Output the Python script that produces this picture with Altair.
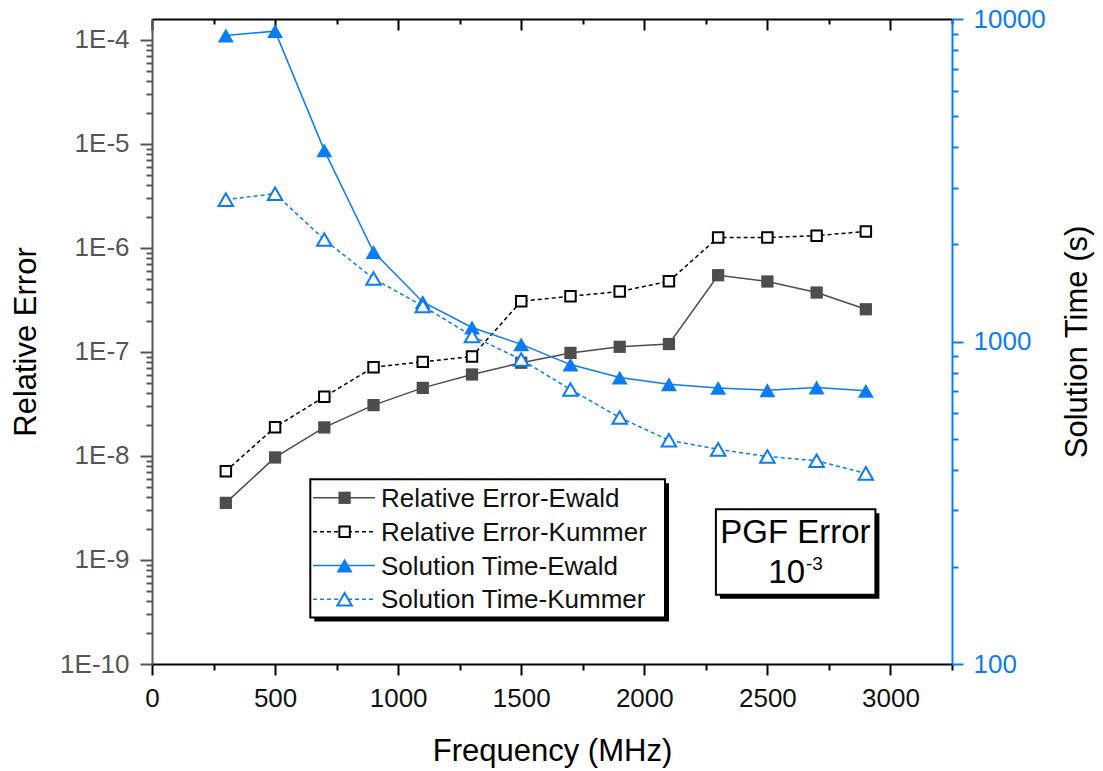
import altair as alt
import pandas as pd

# ---------------- data ----------------
freq = [300, 500, 700, 900, 1100, 1300, 1500, 1700, 1900, 2100, 2300, 2500, 2700, 2900]
re_ewald = [3.54e-9, 9.67e-9, 1.88e-8, 3.08e-8, 4.51e-8, 6.07e-8, 7.87e-8,
            9.78e-8, 1.12e-7, 1.19e-7, 5.46e-7, 4.75e-7, 3.72e-7, 2.57e-7]
re_kummer = [7.14e-9, 1.89e-8, 3.70e-8, 7.13e-8, 8.02e-8, 9.03e-8, 3.07e-7,
             3.43e-7, 3.80e-7, 4.78e-7, 1.26e-6, 1.26e-6, 1.31e-6, 1.44e-6]
st_ewald = [8890, 9170, 3914, 1895, 1326, 1105, 980, 848, 773, 737, 718, 706, 720, 703]
st_kummer = [2754, 2873, 2070, 1567, 1289, 1040, 879, 710, 581, 494, 463, 440, 427, 390]

legend_labels = ["Relative Error-Ewald", "Relative Error-Kummer",
                 "Solution Time-Ewald", "Solution Time-Kummer"]
note_title = "PGF Error"
note_base = "10"
note_exp = "-3"

x_major = [0, 500, 1000, 1500, 2000, 2500, 3000]
x_minor = [250, 750, 1250, 1750, 2250, 2750, 3250]
left_major = [1e-10, 1e-9, 1e-8, 1e-7, 1e-6, 1e-5, 1e-4]
left_minor = [float(f"{m}e{e}") for e in range(-10, -4) for m in range(2, 10)]
right_major = [100, 1000, 10000]
right_minor = [m * 100 for m in range(2, 10)] + [m * 1000 for m in range(2, 10)]

# ---------------- style ----------------
FONT = "Liberation Sans"
BLUE = "#0B7CF2"
GRAY = "#4D4D4D"
AXGRAY = "#555555"
W, H = 800, 645

XS = alt.Scale(domain=[0, 3250], nice=False, zero=False)
YL = alt.Scale(type="log", domain=[1e-10, 10 ** -3.8], nice=False)
YR = alt.Scale(type="log", domain=[100, 10000], nice=False)


def minor_axis(orient, values, color, size, offset=0):
    kw = dict(orient=orient, values=values, labels=False, domain=False,
              tickSize=size, tickWidth=2, tickColor=color, grid=False, title=None)
    if offset:
        kw["offset"] = offset
    return alt.Axis(**kw)


x_bottom = alt.Axis(
    orient="bottom", values=x_major, format="d",
    tickSize=11, tickWidth=2, tickColor="black", domainColor="black", domainWidth=2,
    labelFont=FONT, labelFontSize=26, labelColor="#111111", labelPadding=10,
    labelOverlap=False, labelFlush=False, grid=False,
    title="Frequency (MHz)", titleFont=FONT, titleFontSize=31, titleFontWeight="normal",
    titleColor="black", titleBaseline="alphabetic", titleAlign="center",
    titleX=W / 2, titleY=96,
)
x_bottom_minor = minor_axis("bottom", x_minor, "black", 6)
x_top = alt.Axis(
    orient="bottom", offset=-H, values=x_major, labels=False,
    tickSize=11, tickWidth=2, tickColor="black", domainColor="black", domainWidth=2,
    grid=False, title=None,
)
x_top_minor = minor_axis("bottom", x_minor, "black", 5, offset=-H)

left_axis = alt.Axis(
    orient="left", values=left_major,
    labelExpr="'1E' + round(log(datum.value)/LN10)",
    tickSize=12, tickWidth=2, tickColor=AXGRAY, domainColor=AXGRAY, domainWidth=2,
    labelFont=FONT, labelFontSize=26, labelColor=AXGRAY, labelPadding=11,
    labelOverlap=False, labelFlush=False, grid=False,
    title="Relative Error", titleFont=FONT, titleFontSize=31, titleFontWeight="normal",
    titleColor="black", titleAngle=270, titleAlign="center", titleBaseline="middle",
    titleX=-126, titleY=H / 2,
)
left_minor_axis = minor_axis("left", left_minor, AXGRAY, 6)
right_axis = alt.Axis(
    orient="right", values=right_major, format="d",
    tickSize=11, tickWidth=2, tickColor=BLUE, domainColor=BLUE, domainWidth=2,
    labelFont=FONT, labelFontSize=26, labelColor=BLUE, labelPadding=10,
    labelOverlap=False, labelFlush=False, grid=False,
    title="Solution Time (s)", titleFont=FONT, titleFontSize=31, titleFontWeight="normal",
    titleColor="black", titleAngle=270, titleAlign="center", titleBaseline="middle",
    titleX=125, titleY=H / 2,
)
right_minor_axis = minor_axis("right", right_minor, BLUE, 6)

line_styles = [
    dict(color=GRAY, strokeWidth=1.5),
    dict(color="black", strokeWidth=1.5, strokeDash=[4, 3]),
    dict(color=BLUE, strokeWidth=1.5),
    dict(color=BLUE, strokeWidth=1.5, strokeDash=[4, 3]),
]
point_styles = [
    dict(shape="square", filled=True, color=GRAY, size=150, opacity=1),
    dict(shape="square", filled=True, fill="white", stroke="black", strokeWidth=2, size=110, opacity=1),
    dict(shape="triangle-up", filled=True, color=BLUE, size=256, opacity=1),
    dict(shape="triangle-up", filled=True, fill="white", stroke=BLUE, strokeWidth=2, size=210, opacity=1),
]


def series(vals, scale, yaxis, ls, ps, xaxis=None):
    df = pd.DataFrame({"freq": freq, "val": vals})
    line = alt.Chart(df).mark_line(**ls).encode(
        x=alt.X("freq:Q", scale=XS, axis=xaxis),
        y=alt.Y("val:Q", scale=scale, axis=yaxis),
    )
    pts = alt.Chart(df).mark_point(**ps).encode(
        x=alt.X("freq:Q", scale=XS, axis=None),
        y=alt.Y("val:Q", scale=scale, axis=None),
    )
    return [line, pts]


def axis_holder(vals, scale, yaxis, xaxis):
    df = pd.DataFrame({"freq": freq, "val": vals})
    y = alt.Y("val:Q", scale=scale, axis=yaxis) if scale is not None else alt.value(0)
    return alt.Chart(df).mark_point(opacity=0).encode(
        x=alt.X("freq:Q", scale=XS, axis=xaxis), y=y)


layers = []
# frame / minor-tick axes (invisible carriers)
layers.append(axis_holder(re_ewald, YL, left_minor_axis, x_bottom_minor))
layers.append(axis_holder(st_ewald, YR, right_minor_axis, x_top))
layers.append(axis_holder(re_ewald, None, None, x_top_minor))

layers += series(re_ewald, YL, left_axis, line_styles[0], point_styles[0], x_bottom)
layers += series(re_kummer, YL, None, line_styles[1], point_styles[1])
layers += series(st_ewald, YR, right_axis, line_styles[2], point_styles[2])
layers += series(st_kummer, YR, None, line_styles[3], point_styles[3])

one = pd.DataFrame({"k": [0]})


def box(x1, x2, y1, y2, off):
    shadow = alt.Chart(one).mark_rect(fill="black").encode(
        x=alt.value(x1 + off), x2=alt.value(x2 + off),
        y=alt.value(y1 + off), y2=alt.value(y2 + off))
    face = alt.Chart(one).mark_rect(fill="white", stroke="black", strokeWidth=2).encode(
        x=alt.value(x1), x2=alt.value(x2), y=alt.value(y1), y2=alt.value(y2))
    return [shadow, face]


# legend
layers += box(158.3, 513.0, 460.3, 598.5, 4)
row_cy = [478.8, 512.8, 546.5, 580.3]
for i, lab in enumerate(legend_labels):
    cy = row_cy[i]
    layers.append(alt.Chart(one).mark_rule(**line_styles[i]).encode(
        x=alt.value(161), x2=alt.value(223), y=alt.value(cy)))
    layers.append(alt.Chart(one).mark_point(**point_styles[i]).encode(
        x=alt.value(192.6), y=alt.value(cy)))
    layers.append(alt.Chart(one).mark_text(
        align="left", baseline="alphabetic", font=FONT, fontSize=26, color="#111111"
    ).encode(x=alt.value(229), y=alt.value(cy + 9), text=alt.value(lab)))

# PGF note box
layers += box(563.9, 723.4, 490.3, 575.7, 4)
layers.append(alt.Chart(one).mark_text(
    align="center", baseline="alphabetic", font=FONT, fontSize=33, color="black"
).encode(x=alt.value(643.4), y=alt.value(524.3), text=alt.value(note_title)))
layers.append(alt.Chart(one).mark_text(
    align="right", baseline="alphabetic", font=FONT, fontSize=33, color="black"
).encode(x=alt.value(653), y=alt.value(564.3), text=alt.value(note_base)))
layers.append(alt.Chart(one).mark_text(
    align="left", baseline="alphabetic", font=FONT, fontSize=19, color="black"
).encode(x=alt.value(654), y=alt.value(551), text=alt.value(note_exp)))

chart = (
    alt.layer(*layers)
    .resolve_scale(y="independent")
    .resolve_axis(x="independent", y="independent")
    .properties(
        width=W, height=H,
        autosize=alt.AutoSizeParams(type="none"),
        padding={"left": 152, "top": 19, "right": 151, "bottom": 107},
        background="white",
    )
    .configure_view(stroke=None)
)

chart.save("out.html", embed_options={"renderer": "svg", "actions": False})
